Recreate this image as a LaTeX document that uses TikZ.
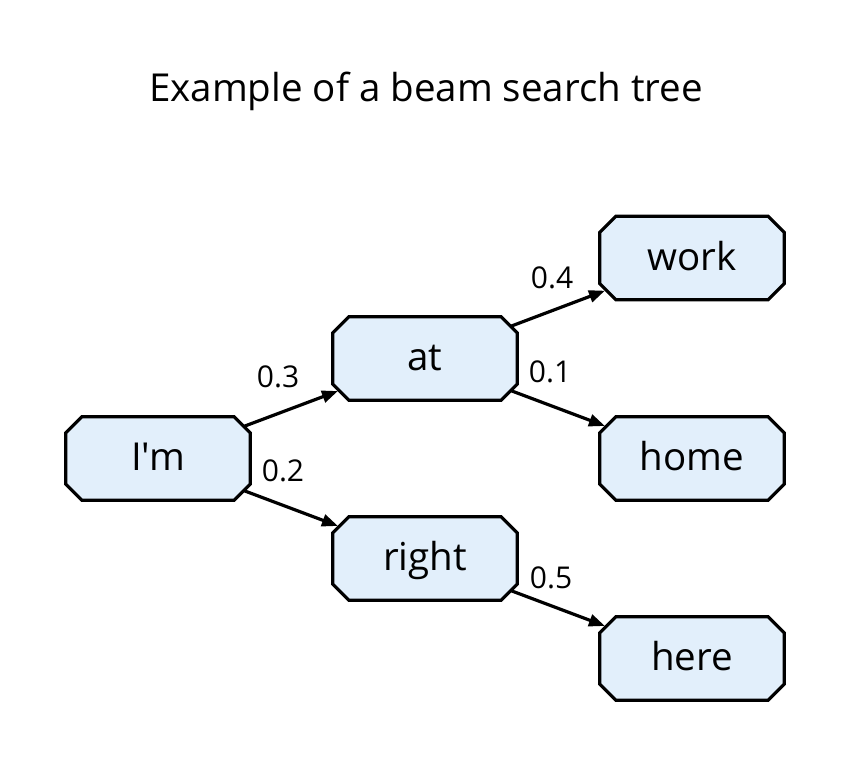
\documentclass[tikz,border=0pt]{standalone}
\usepackage{fontspec}
\setmainfont{Open Sans}[Ligatures=TeXOff]
\usetikzlibrary{arrows.meta,backgrounds}
\definecolor{nodefill}{RGB}{226,239,251}
\tikzset{
  word/.style={rectangle, minimum width=184pt, minimum height=83pt, inner sep=0pt,
    font=\fontsize{38.5}{40}\selectfont, text height=30pt, text depth=6pt},
  octo/.style={draw=black, line width=3.2pt, fill=nodefill, line join=miter},
  edge/.style={line width=3.2pt, -{Triangle[length=16pt,width=12pt]}, shorten <=-7pt, shorten >=-5.5pt},
  prob/.style={font=\fontsize{30}{32}\selectfont, inner sep=0pt},
}
\begin{document}
\begin{tikzpicture}[x=1pt,y=-1pt]
\useasboundingbox (0,0) rectangle (850,767);
\node[font=\fontsize{38.5}{40}\selectfont, anchor=base] (title) at (426,102) {Example of a beam search tree};
\node[word] (im) at (158,458.5) {I'm};
\node[word] (at) at (425,358.5) {at};
\node[word] (right) at (425,558.5) {right};
\node[word] (work) at (692,258) {work};
\node[word] (home) at (692,458.5) {home};
\node[word] (here) at (692,658.5) {here};
\begin{scope}[on background layer]
\foreach \n in {im,at,right,work,home,here}{
  \draw[octo] ([xshift=16pt]\n.north west) -- ([xshift=-16pt]\n.north east)
    -- ([yshift=-16pt]\n.north east) -- ([yshift=16pt]\n.south east)
    -- ([xshift=-16pt]\n.south east) -- ([xshift=16pt]\n.south west)
    -- ([yshift=16pt]\n.south west) -- ([yshift=-16pt]\n.north west) -- cycle;
}
\end{scope}
\draw[edge] (im) -- (at);
\draw[edge] (im) -- (right);
\draw[edge] (at) -- (work);
\draw[edge] (at) -- (home);
\draw[edge] (right) -- (here);
\node[prob] (p1) at (278,377) {0.3};
\node[prob] (p2) at (283,471) {0.2};
\node[prob] (p3) at (552,278) {0.4};
\node[prob] (p4) at (550,372) {0.1};
\node[prob] (p5) at (551,578) {0.5};
\end{tikzpicture}
\end{document}
